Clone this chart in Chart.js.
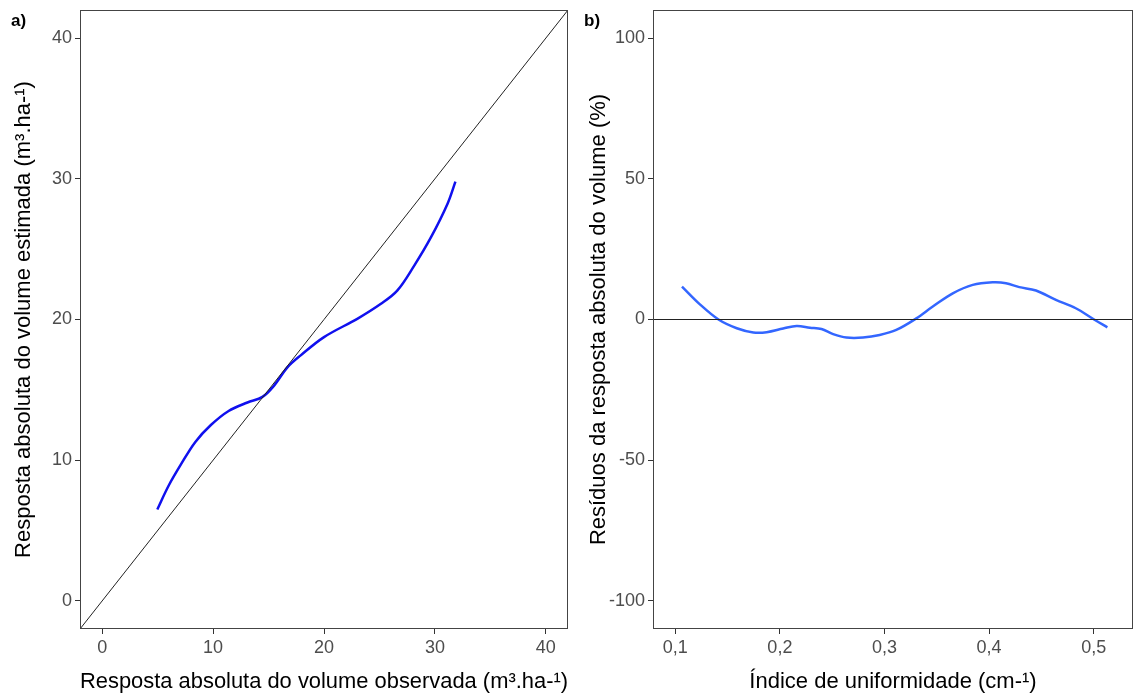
<!DOCTYPE html>
<html>
<head>
<meta charset="utf-8">
<script src="https://cdn.jsdelivr.net/npm/chart.js@4.4.1/dist/chart.umd.min.js"></script>
<style>
  html, body { margin: 0; padding: 0; background: #fff; }
  body { width: 1134px; height: 698px; position: relative; overflow: hidden; font-family: "Liberation Sans", Arial, sans-serif; }
  .panel { position: absolute; top: 0; height: 698px; }
  .tag { position: absolute; top: 11px; font-weight: bold; font-size: 17px; color: #000; }
</style>
</head>
<body>
<div class="panel" style="left:0;width:575px"><canvas id="chartA"></canvas></div>
<div class="panel" style="left:575px;width:559px"><canvas id="chartB"></canvas></div>
<div class="tag" style="left:11px">a)</div>
<div class="tag" style="left:584px">b)</div>
<script>
// painel a) - volume observado x estimado
const obsX = [4.97, 6.0, 7.1, 8.4, 9.8, 11.4, 13.1, 14.45, 15.5, 16.7, 17.9, 20.0, 23.0, 25.1, 26.6, 28.15, 29.65, 31.15, 31.85];
const estY = [6.5, 8.2, 9.7, 11.3, 12.5, 13.5, 14.1, 14.5, 15.3, 16.6, 17.45, 18.75, 20.05, 21.1, 22.05, 23.85, 25.85, 28.25, 29.8];
const lineAx = [-2, 42];
const ticksA = [0, 10, 20, 30, 40];

// painel b) - residuos x indice de uniformidade
const idxX = [0.1064, 0.1238, 0.1413, 0.1588, 0.1746, 0.1874, 0.2032, 0.216, 0.2287, 0.2398, 0.2509, 0.2637, 0.2795, 0.2954, 0.3113, 0.3304, 0.3462, 0.3653, 0.3844, 0.4034, 0.4162, 0.4289, 0.4448, 0.4639, 0.4829, 0.5004, 0.5131];
const residY = [11.7, 5.3, 0, -3.1, -4.6, -4.5, -3.2, -2.3, -2.9, -3.4, -5.2, -6.4, -6.4, -5.5, -3.7, 0.4, 4.6, 9.3, 12.3, 13.2, 12.9, 11.5, 10.3, 7.0, 4.0, 0, -2.8];
const zeroX = [0.0787, 0.5376];
const ticksBx = [0.1, 0.2, 0.3, 0.4, 0.5];
const ticksBy = [-100, -50, 0, 50, 100];

const FONT = '"Liberation Sans", Arial, sans-serif';

// moldura do painel
const boxPlugin = {
  id: 'box',
  afterDraw(chart) {
    const a = chart.chartArea, c = chart.ctx;
    c.save();
    c.strokeStyle = '#444';
    c.lineWidth = 1;
    c.strokeRect(a.left + 0.5, a.top + 0.5, a.right - a.left - 1, a.bottom - a.top - 1);
    c.restore();
  }
};

function axis(opts) {
  return {
    type: 'linear',
    min: opts.min,
    max: opts.max,
    afterBuildTicks: s => { s.ticks = opts.ticks.map(v => ({ value: v })); },
    afterFit: s => {
      if (opts.width) {
        s.width = opts.width;
        s.paddingTop = 0;
        s.paddingBottom = 0;
      }
      if (opts.height) {
        s.height = opts.height;
        s.paddingLeft = 0;
        s.paddingRight = 0;
      }
    },
    grid: { display: true, drawOnChartArea: false, drawTicks: true, tickLength: 5, color: '#333' },
    border: { display: false },
    ticks: {
      color: '#4d4d4d',
      font: { family: FONT, size: 18 },
      padding: opts.tpad,
      maxRotation: 0,
      autoSkip: false,
      callback: opts.fmt || (v => v)
    },
    title: {
      display: true,
      text: opts.title,
      color: '#000',
      font: { family: FONT, size: 22 },
      padding: opts.titlePad
    }
  };
}

new Chart(document.getElementById('chartA'), {
  type: 'line',
  data: {
    datasets: [
      {
        data: lineAx.map(v => ({ x: v, y: v })),
        borderColor: '#222',
        borderWidth: 1,
        pointRadius: 0,
        tension: 0
      },
      {
        data: obsX.map((x, i) => ({ x: x, y: estY[i] })),
        borderColor: '#1010ee',
        borderWidth: 2.5,
        pointRadius: 0,
        tension: 0.35
      }
    ]
  },
  options: {
    responsive: true,
    maintainAspectRatio: false,
    animation: false,
    layout: { padding: { top: 10, right: 7, left: 0, bottom: 0 } },
    plugins: { legend: { display: false }, tooltip: { enabled: false } },
    scales: {
      x: axis({ min: -2, max: 42, ticks: ticksA, height: 69, tpad: 3,
        title: 'Resposta absoluta do volume observada (m³.ha-¹)', titlePad: { top: 0, bottom: 3 } }),
      y: axis({ min: -2, max: 42, ticks: ticksA, width: 80, tpad: 3,
        title: 'Resposta absoluta do volume estimada (m³.ha-¹)', titlePad: { top: 11, bottom: 0 } })
    }
  },
  plugins: [boxPlugin]
});

new Chart(document.getElementById('chartB'), {
  type: 'line',
  data: {
    datasets: [
      {
        data: zeroX.map(x => ({ x: x, y: 0 })),
        borderColor: '#222',
        borderWidth: 1.2,
        pointRadius: 0,
        tension: 0
      },
      {
        data: idxX.map((x, i) => ({ x: x, y: residY[i] })),
        borderColor: '#3366FF',
        borderWidth: 2.5,
        pointRadius: 0,
        tension: 0.35
      }
    ]
  },
  options: {
    responsive: true,
    maintainAspectRatio: false,
    animation: false,
    layout: { padding: { top: 10, right: 1, left: 0, bottom: 0 } },
    plugins: { legend: { display: false }, tooltip: { enabled: false } },
    scales: {
      x: axis({ min: zeroX[0], max: zeroX[1], ticks: ticksBx, height: 69, tpad: 3,
        fmt: v => v.toFixed(1).replace('.', ','),
        title: 'Índice de uniformidade (cm-¹)', titlePad: { top: 0, bottom: 3 } }),
      y: axis({ min: -110, max: 110, ticks: ticksBy, width: 78, tpad: 3,
        title: 'Resíduos da resposta absoluta do volume (%)', titlePad: { top: 11, bottom: 0 } })
    }
  },
  plugins: [boxPlugin]
});
</script>
</body>
</html>
